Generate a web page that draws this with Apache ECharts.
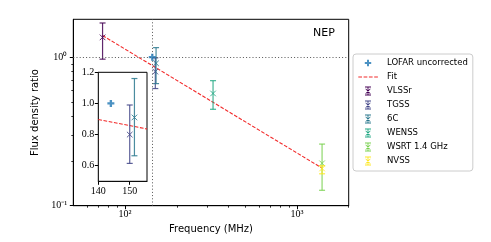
<!DOCTYPE html>
<html>
<head>
<meta charset="utf-8">
<script src="https://cdn.jsdelivr.net/npm/echarts@6/dist/echarts.min.js"></script>
<style>html,body{margin:0;padding:0;background:#fff;}#c{width:491px;height:242px;}</style>
</head>
<body>
<div id="c"></div>
<script>
// ---- data ----
const surveys   = ['VLSSr', 'TGSS', '6C', 'WENSS', 'WSRT 1.4 GHz', 'NVSS'];
const surveyFreq = [74, 150, 151.5, 325, 1400, 1400];
const surveyRatio = [1.36, 0.80, 0.91, 0.57, 0.193, 0.178];
const surveyLow  = [0.97, 0.615, 0.664, 0.446, 0.127, 0.164];
const surveyHigh = [1.70, 0.99, 1.16, 0.695, 0.26, 0.186];
const surveyColors = ['#440154', '#414487', '#2a788e', '#22a884', '#7ad151', '#fde725'];
const insetSurveys = ['TGSS', '6C'];

const lofarFreq = [144];
const lofarRatio = [1.0];

const fitFreq = [74, 1400];
const fitRatio = [1.40, 0.179];
const insetFitFreq = [140, 155.5];
const insetFitRatio = [0.897, 0.836];

const xMajorTicks = [100, 1000];
const xMajorLabels = ['10²', '10³'];
const xMinorTicks = [60, 70, 80, 90, 200, 300, 400, 500, 600, 700, 800, 900, 2000];
const yMajorTicks = [0.1, 1];
const yMajorLabels = ['10⁻¹', '10⁰'];
const yMinorTicks = [0.2, 0.3, 0.4, 0.5, 0.6, 0.7, 0.8, 0.9];
const insetXTicks = [140, 150];
const insetYTicks = [0.6, 0.8, 1.0, 1.2];

// ---- rendering ----
const serif = 'Liberation Serif';
const sans = 'DejaVu Sans';
const fitColor = '#f22a2a';

function errRender(params, api) {
  const x = api.value(0), y = api.value(1), lo = api.value(2), hi = api.value(3);
  const p = api.coord([x, y]);
  const pl = api.coord([x, lo]);
  const ph = api.coord([x, hi]);
  const c = api.visual('color');
  const cw = 3, m = 2.8;
  const st = {stroke: c, lineWidth: 1.2, opacity: 0.85};
  const sm = {stroke: c, lineWidth: 1, opacity: 0.85};
  return {type: 'group', children: [
    {type: 'line', shape: {x1: p[0], y1: pl[1], x2: p[0], y2: ph[1]}, style: st},
    {type: 'line', shape: {x1: p[0]-cw, y1: pl[1], x2: p[0]+cw, y2: pl[1]}, style: st},
    {type: 'line', shape: {x1: p[0]-cw, y1: ph[1], x2: p[0]+cw, y2: ph[1]}, style: st},
    {type: 'line', shape: {x1: p[0]-m, y1: p[1]-m, x2: p[0]+m, y2: p[1]+m}, style: sm},
    {type: 'line', shape: {x1: p[0]-m, y1: p[1]+m, x2: p[0]+m, y2: p[1]-m}, style: sm}
  ]};
}

const frame = 'M0,0L0.01,0L0,0.01Z M20,9L19.99,9L20,8.99Z ';
const errIcon = 'path://' + frame +
  'M7,0h6v0.9h-6Z M7,8.1h6v0.9h-6Z M9.55,0h0.9v9h-0.9Z ' +
  'M7.4,2.6L7.9,2.1L12.6,6.9L12.1,7.4Z M12.6,2.6L7.9,7.4L7.4,6.9L12.1,2.1Z';
const plusIcon = 'path://' + frame +
  'M9,1.3h2v2.2h2.2v2h-2.2v2.2h-2v-2.2h-2.2v-2h2.2Z';
const dashIcon = 'path://' + frame +
  'M0.3,3.95h3.7v1.1h-3.7Z M5.6,3.95h3.7v1.1h-3.7Z M10.9,3.95h3.7v1.1h-3.7Z M16.2,3.95h3.7v1.1h-3.7Z';
const plusSymbol = 'path://M2,0h2v2h2v2h-2v2h-2v-2h-2v-2h2Z';

const series = [];
// LOFAR main with reference lines
series.push({
  name: 'LOFAR uncorrected', type: 'scatter', xAxisIndex: 0, yAxisIndex: 0,
  data: lofarFreq.map((f, i) => [f, lofarRatio[i]]),
  symbol: plusSymbol, symbolSize: 7, itemStyle: {color: '#1f77b4'}, z: 5,
  markLine: {
    silent: true, symbol: 'none', label: {show: false},
    lineStyle: {color: '#555', type: [1, 2.2], width: 1},
    data: [{xAxis: lofarFreq[0]}, {yAxis: lofarRatio[0]}],
    animation: false
  }
});
series.push({
  name: 'Fit', type: 'line', xAxisIndex: 0, yAxisIndex: 0,
  data: fitFreq.map((f, i) => [f, fitRatio[i]]),
  symbol: 'none', lineStyle: {color: fitColor, width: 1.1, type: [3.7, 1.6]},
  itemStyle: {color: fitColor}, z: 3
});
surveys.forEach((s, i) => {
  series.push({
    name: s, type: 'custom', xAxisIndex: 0, yAxisIndex: 0,
    renderItem: errRender,
    data: [[surveyFreq[i], surveyRatio[i], surveyLow[i], surveyHigh[i]]],
    itemStyle: {color: surveyColors[i]}, z: 4
  });
});
// inset
series.push({
  name: 'LOFAR uncorrected', type: 'scatter', xAxisIndex: 2, yAxisIndex: 2,
  data: lofarFreq.map((f, i) => [f, lofarRatio[i]]),
  symbol: plusSymbol, symbolSize: 7, itemStyle: {color: '#1f77b4'}, z: 15,
  markLine: {
    silent: true, symbol: 'none', label: {show: false},
    lineStyle: {color: '#555', type: [1, 2.2], width: 1},
    data: [{xAxis: lofarFreq[0]}, {yAxis: lofarRatio[0]}],
    animation: false
  }
});
series.push({
  name: 'Fit', type: 'line', xAxisIndex: 2, yAxisIndex: 2,
  data: insetFitFreq.map((f, i) => [f, insetFitRatio[i]]),
  symbol: 'none', lineStyle: {color: fitColor, width: 1.1, type: [3.7, 1.6]}, z: 13
});
insetSurveys.forEach(s => {
  const i = surveys.indexOf(s);
  series.push({
    name: s, type: 'custom', xAxisIndex: 2, yAxisIndex: 2,
    renderItem: errRender,
    data: [[surveyFreq[i], surveyRatio[i], surveyLow[i], surveyHigh[i]]],
    itemStyle: {color: surveyColors[i]}, z: 14
  });
});

const labelStyle = {color: '#000', fontFamily: serif, fontSize: 10};
const tickStyle = {lineStyle: {color: '#000', width: 1}};

const option = {
  animation: false,
  backgroundColor: '#fff',
  grid: [
    {left: 73.3, top: 19.3, width: 275.4, height: 186.4, show: true, borderColor: '#000', borderWidth: 1, backgroundColor: 'transparent'},
    {left: 98.3, top: 72.3, width: 48.7, height: 109, show: true, borderColor: '#000', borderWidth: 1, backgroundColor: '#fff', z: 10}
  ],
  xAxis: [
    {type: 'log', logBase: 10, gridIndex: 0, min: 50, max: 2000, position: 'bottom',
     name: 'Frequency (MHz)', nameLocation: 'middle', nameGap: 18.5,
     nameTextStyle: {color: '#000', fontFamily: sans, fontSize: 10},
     axisLine: {show: true, lineStyle: {color: '#000', width: 1}},
     axisTick: {show: true, inside: false, length: 3.5, customValues: xMajorTicks, ...tickStyle},
     axisLabel: {show: true, customValues: xMajorTicks, margin: 4,
       formatter: v => xMajorLabels[xMajorTicks.indexOf(v)] ?? '', ...labelStyle},
     splitLine: {show: false}, minorTick: {show: false}},
    {type: 'log', logBase: 10, gridIndex: 0, min: 50, max: 2000, position: 'bottom',
     axisLine: {show: false}, axisLabel: {show: false}, splitLine: {show: false},
     axisTick: {show: true, inside: false, length: 2, customValues: xMinorTicks, lineStyle: {color: '#000', width: 0.8}}},
    {type: 'value', gridIndex: 1, min: 140, max: 155.5, position: 'bottom',
     axisLine: {show: true, lineStyle: {color: '#000', width: 1}},
     axisTick: {show: true, inside: false, length: 3.5, customValues: insetXTicks, ...tickStyle},
     axisLabel: {show: true, customValues: insetXTicks, margin: 5, formatter: v => String(v), ...labelStyle},
     splitLine: {show: false}}
  ],
  yAxis: [
    {type: 'log', logBase: 10, gridIndex: 0, min: 0.1, max: 1.8, position: 'left',
     name: 'Flux density ratio', nameLocation: 'middle', nameGap: 29,
     nameTextStyle: {color: '#000', fontFamily: sans, fontSize: 10},
     axisLine: {show: true, lineStyle: {color: '#000', width: 1}},
     axisTick: {show: true, inside: false, length: 3.5, customValues: yMajorTicks, ...tickStyle},
     axisLabel: {show: true, customValues: yMajorTicks, margin: 6,
       formatter: v => yMajorLabels[yMajorTicks.indexOf(v)] ?? '', ...labelStyle},
     splitLine: {show: false}},
    {type: 'log', logBase: 10, gridIndex: 0, min: 0.1, max: 1.8, position: 'left',
     axisLine: {show: false}, axisLabel: {show: false}, splitLine: {show: false},
     axisTick: {show: true, inside: false, length: 2, customValues: yMinorTicks, lineStyle: {color: '#000', width: 0.8}}},
    {type: 'value', gridIndex: 1, min: 0.5, max: 1.2, position: 'left',
     axisLine: {show: true, lineStyle: {color: '#000', width: 1}},
     axisTick: {show: true, inside: false, length: 3.5, customValues: insetYTicks, ...tickStyle},
     axisLabel: {show: true, customValues: insetYTicks, margin: 4, formatter: v => v.toFixed(1), ...labelStyle},
     splitLine: {show: false}}
  ],
  legend: {
    orient: 'vertical', left: 353, top: 54,
    padding: [3, 5, 4, 5], itemGap: 2, itemWidth: 20, itemHeight: 9,
    borderColor: '#cccccc', borderWidth: 1, borderRadius: 3, backgroundColor: '#fff',
    textStyle: {color: '#000', fontFamily: sans, fontSize: 8.5, lineHeight: 12, padding: [0, 0, 0, 4]},
    data: [
      {name: 'LOFAR uncorrected', icon: plusIcon},
      {name: 'Fit', icon: dashIcon, itemStyle: {color: fitColor}},
      ...surveys.map(s => ({name: s, icon: errIcon}))
    ],
    selectedMode: false
  },
  graphic: [
    {type: 'text', left: 313, top: 28, style: {text: 'NEP', fill: '#000', font: '11px "DejaVu Sans"'}}
  ],
  series: series
};

const chart = echarts.init(document.getElementById('c'), null, {renderer: 'canvas'});
chart.setOption(option);
</script>
</body>
</html>
